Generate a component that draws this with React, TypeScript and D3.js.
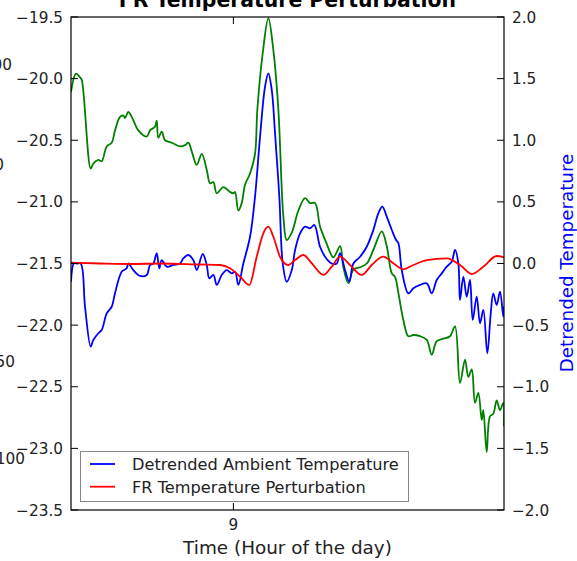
import React from "react";
import * as d3 from "d3";

// time = minutes after 8:30
const START_HOUR = 8.5;
const SPAN_MIN = 80;

const ambientMin = [0,0.92,1.66,1.98,3.64,4.12,5.05,5.67,6.6,7.52,8.13,9.06,9.67,9.98,10.59,11.22,12.44,13.99,14.6,15.52,15.84,16.13,16.76,17.37,18.61,20.14,21.07,21.68,22.31,23.23,24.16,25.08,25.69,26.3,26.93,28.15,29.38,29.99,30.31,30.92,31.54,32.16,33.08,34.0,34.43,35.43,36.46,37.39,38.31,39.24,39.86,40.79,42.01,43.24,44.17,45.09,46.01,47.25,48.47,49.71,50.32,51.24,52.17,53.41,54.64,55.86,57.42,58.34,59.27,59.88,60.49,61.41,62.33,63.26,64.49,65.73,66.65,67.57,68.79,70.03,70.95,71.87,72.8,73.41,74.04,74.64,75.26,75.88,76.18,76.8,77.41,78.02,78.65,79.26,79.87,80.0];
const ambientTemp = [-20.11,-19.96,-19.99,-20.01,-20.73,-20.69,-20.66,-20.67,-20.55,-20.52,-20.42,-20.31,-20.30,-20.32,-20.27,-20.31,-20.42,-20.47,-20.42,-20.39,-20.34,-20.48,-20.43,-20.50,-20.52,-20.55,-20.54,-20.52,-20.59,-20.70,-20.61,-20.74,-20.85,-20.84,-20.93,-20.88,-20.92,-20.93,-20.92,-21.07,-21.01,-20.86,-20.77,-20.61,-20.25,-19.79,-19.51,-19.77,-20.25,-21.12,-21.31,-21.25,-21.07,-20.97,-21.01,-21.01,-21.20,-21.34,-21.45,-21.36,-21.53,-21.66,-21.55,-21.53,-21.50,-21.39,-21.24,-21.36,-21.58,-21.61,-21.74,-21.96,-22.09,-22.08,-22.09,-22.12,-22.24,-22.13,-22.11,-22.09,-22.01,-22.47,-22.28,-22.42,-22.36,-22.63,-22.55,-22.77,-22.69,-23.03,-22.74,-22.72,-22.61,-22.69,-22.63,-22.82];

const detrendedMin = [0,0.55,1.05,1.79,2.59,3.64,4.12,5.05,5.67,6.6,7.52,8.13,9.37,10.29,10.59,11.51,12.75,13.99,14.6,15.21,15.84,16.32,16.76,17.68,18.9,20.14,20.75,21.68,22.6,23.23,24.34,25.08,25.56,26.3,26.93,27.85,28.77,29.7,30.31,30.92,31.84,33.08,34.0,34.93,35.85,36.46,37.09,37.7,38.49,39.12,39.86,40.79,41.4,42.32,43.24,44.17,44.96,46.01,46.94,48.17,49.09,49.71,50.63,51.42,52.17,53.41,54.64,55.86,56.78,57.52,58.34,59.27,60.06,60.49,61.11,62.33,63.26,64.49,65.73,66.65,67.57,68.5,69.42,70.35,70.95,71.57,71.87,72.49,73.11,73.72,74.22,74.96,75.57,76.18,76.92,77.55,78.02,78.65,79.26,79.87,80.0];
const detrendedTemp = [-0.148,0.002,0.0,0.0,-0.351,-0.675,-0.621,-0.566,-0.540,-0.404,-0.351,-0.242,-0.067,-0.039,0.0,-0.053,-0.101,-0.093,-0.012,0.0,0.083,-0.039,0.028,-0.026,-0.012,0.0,0.042,0.069,0.028,-0.053,0.077,-0.012,-0.120,-0.093,-0.174,-0.093,-0.053,-0.080,-0.067,-0.174,0.0,0.217,0.542,1.029,1.435,1.543,1.408,1.056,0.542,0.0,-0.148,-0.053,0.110,0.245,0.299,0.286,0.312,0.136,0.055,0.0,0.0,0.083,-0.053,-0.148,0.0,0.055,0.136,0.272,0.407,0.461,0.380,0.272,0.191,0.164,-0.053,-0.242,-0.201,-0.174,-0.161,-0.242,-0.134,-0.080,-0.026,0.015,0.110,0.0,-0.296,-0.107,-0.269,-0.134,-0.458,-0.269,-0.485,-0.377,-0.729,-0.404,-0.242,-0.337,-0.229,-0.432,-0.35];

const frMin = [0,5.36,10.9,16.45,23.84,27.53,29.38,31.23,32.95,34.31,35.53,36.46,37.39,38.61,40.15,41.4,42.93,44.48,46.63,48.17,49.71,51.55,53.71,55.56,57.7,59.55,61.4,63.26,65.73,69.42,71.87,74.04,76.18,78.65,80.0];
const frTemp = [0.006,0.0,-0.004,0.0,-0.008,-0.012,-0.039,-0.107,-0.174,0.055,0.245,0.299,0.217,0.055,-0.012,0.028,0.069,0.002,-0.093,-0.026,0.055,-0.012,-0.093,-0.012,0.055,0.002,-0.047,-0.012,0.028,0.042,-0.012,-0.085,-0.026,0.061,0.050];

const leftFragments = ["200", "0", "50", "100"];
const legendLabels = ["Detrended Ambient Temperature", "FR Temperature Perturbation"];

const W = 577, H = 561;
const M = { left: 71, right: 504, top: 17, bottom: 510 };
const FONT = "DejaVu Sans, sans-serif";

export default function App() {
  const x = d3.scaleLinear().domain([START_HOUR, START_HOUR + SPAN_MIN / 60]).range([M.left, M.right]);
  const yL = d3.scaleLinear().domain([-23.5, -19.5]).range([M.bottom, M.top]);
  const yR = d3.scaleLinear().domain([-2, 2]).range([M.bottom, M.top]);
  const hr = (m: number) => START_HOUR + m / 60;
  const smooth = d3.curveCatmullRom.alpha(0.5);

  const green = d3.line<number>().x((_, i) => x(hr(ambientMin[i]))).y((d) => yL(d)).curve(smooth)(ambientTemp) || "";
  const blue = d3.line<number>().x((_, i) => x(hr(detrendedMin[i]))).y((d) => yR(d)).curve(smooth)(detrendedTemp) || "";
  const red = d3.line<number>().x((_, i) => x(hr(frMin[i]))).y((d) => yR(d)).curve(d3.curveMonotoneX)(frTemp) || "";

  const fmt = d3.format(".1f");
  const lTicks = d3.range(0, 9).map((i) => -23.5 + i * 0.5);
  const rTicks = d3.range(0, 9).map((i) => -2 + i * 0.5);
  const xTicks = x.ticks(1).filter((t) => Number.isInteger(t));
  const fragY = [64, 164, 361, 458];
  const fragX = [12, 4, 15, 25];

  return (
    <svg width={W} height={H} style={{ position: "absolute", left: 0, top: 0, background: "#fff" }} fontFamily={FONT}>
      <rect width={W} height={H} fill="#fff" />
      <defs>
        <clipPath id="plot">
          <rect x={M.left} y={M.top - 1} width={M.right - M.left} height={M.bottom - M.top + 2} />
        </clipPath>
      </defs>
      {leftFragments.map((t, i) => (
        <text key={i} x={fragX[i]} y={fragY[i]} dy="0.36em" textAnchor="end" fontSize={15.3} fill="#222">{t}</text>
      ))}
      <text x={(M.left + M.right) / 2} y={7} textAnchor="middle" fontSize={20.4} fontWeight="bold" fill="#000">FR Temperature Perturbation</text>
      <g clipPath="url(#plot)" fill="none" strokeWidth={1.8} strokeLinejoin="round">
        <path d={green} stroke="#008000" />
        <path d={blue} stroke="#0000ff" />
        <path d={red} stroke="#ff0000" />
      </g>
      <rect x={M.left} y={M.top} width={M.right - M.left} height={M.bottom - M.top} fill="none" stroke="#000" strokeWidth={1.2} />
      {lTicks.map((t) => (
        <g key={"l" + t}>
          <line x1={M.left} x2={M.left + 7} y1={yL(t)} y2={yL(t)} stroke="#000" />
          <text x={63} y={yL(t)} dy="0.36em" textAnchor="end" fontSize={15.3} fill="#222">{fmt(t)}</text>
        </g>
      ))}
      {rTicks.map((t) => (
        <g key={"r" + t}>
          <line x1={M.right - 7} x2={M.right} y1={yR(t)} y2={yR(t)} stroke="#000" />
          <text x={512} y={yR(t)} dy="0.36em" textAnchor="start" fontSize={15.3} fill="#222">{fmt(t)}</text>
        </g>
      ))}
      {xTicks.map((t) => (
        <g key={"x" + t}>
          <line x1={x(t)} x2={x(t)} y1={M.top} y2={M.top + 7} stroke="#000" />
          <line x1={x(t)} x2={x(t)} y1={M.bottom} y2={M.bottom - 7} stroke="#000" />
          <text x={x(t)} y={530} textAnchor="middle" fontSize={15.3} fill="#222">{String(t)}</text>
        </g>
      ))}
      <text x={(M.left + M.right) / 2} y={554} textAnchor="middle" fontSize={18.4} fill="#222">Time (Hour of the day)</text>
      <text transform={`translate(573,263) rotate(-90)`} textAnchor="middle" fontSize={18.3} fill="#0000ff">Detrended Temperature</text>
      <g>
        <rect x={80.5} y={451.5} width={328} height={50} fill="#fff" stroke="#888" strokeWidth={1} />
        {legendLabels.map((lab, i) => (
          <g key={lab}>
            <line x1={90} x2={115} y1={464 + i * 22.7} y2={464 + i * 22.7} stroke={i === 0 ? "#0000ff" : "#ff0000"} strokeWidth={1.8} />
            <text x={132} y={464 + i * 22.7} dy="0.36em" fontSize={16.2} fill="#222">{lab}</text>
          </g>
        ))}
      </g>
    </svg>
  );
}
